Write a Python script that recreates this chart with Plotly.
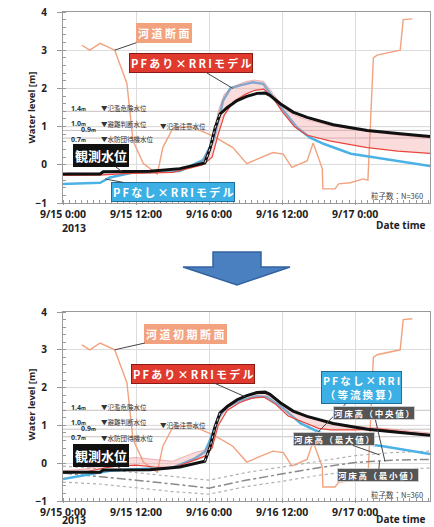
import pandas as pd
import plotly.graph_objects as go

START = pd.Timestamp("2013-09-15 00:00")
W, H = 434, 527

# ---- data (hours after 2013-09-15 00:00, water level in m) ----
obs_hours = [0, 6.1, 6.6, 14.3, 19.2, 22.5, 23.3, 24.2, 25.0, 25.8, 27.0, 28.6, 30.2, 31.9,
             33.2, 34.0, 35.7, 37.8, 40.1, 44.4, 50.0, 55.4, 60.3]
obs_level = [-0.24, -0.24, -0.18, -0.17, -0.10, 0.03, 0.05, 0.45, 0.97, 1.33, 1.50, 1.68, 1.79, 1.87,
             1.88, 1.82, 1.60, 1.38, 1.24, 1.05, 0.90, 0.81, 0.74]

sec_hours = [3.1, 4.4, 6.1, 8.5, 10.5, 11.5, 13.2, 15.5, 16.4, 18.1, 21.0, 24.7, 27.9, 30.2,
             32.4, 34.5, 36.2, 37.6, 40.1, 41.1, 42.6, 42.7, 44.7, 45.3, 47.2, 49.3, 50.1,
             51.0, 51.6, 55.4, 55.9, 57.4]
sec_level = [3.13, 3.00, 3.18, 3.00, 2.13, 0.63, 0.03, -0.24, 0.45, 0.97, 1.00, 0.75, 0.45, 0.03,
             0.18, 0.32, 0.28, -0.07, 0.10, 0.57, -0.10, -0.63, -0.63, -0.50, -0.47, -0.37, -0.40,
             2.80, 2.87, 3.00, 3.80, 3.82]

nopf_hours = [0, 6.1, 7.7, 11.5, 19.2, 22.5, 23.0, 24.7, 26.3, 27.5, 29.1, 31.2, 32.9, 34.5,
              36.2, 38.5, 40.6, 42.8, 47.3, 52.7, 60.3]
nopf_level = [-0.50, -0.47, -0.33, -0.20, -0.16, 0.10, 0.12, 0.63, 1.68, 2.00, 2.08, 2.16, 2.12, 1.76,
              1.42, 0.97, 0.71, 0.55, 0.29, 0.16, -0.03]

pf_hours = [0, 6, 10, 14, 18, 21, 23, 24.5, 25.5, 26.5, 28, 30, 31.5, 33, 34.5, 36, 38, 40,
            44, 50, 55, 60.3]
pf_upper = [-0.22, -0.22, -0.17, -0.15, -0.12, -0.02, 0.10, 0.60, 1.40, 1.85, 2.05, 2.18, 2.22, 2.18,
            1.85, 1.55, 1.30, 1.18, 1.03, 0.88, 0.78, 0.70]
pf_lower = [-0.28, -0.27, -0.23, -0.22, -0.20, -0.08, 0.00, 0.20, 0.80, 1.30, 1.65, 1.85, 1.95, 1.98,
            1.75, 1.40, 1.00, 0.78, 0.62, 0.45, 0.36, 0.30]

# uniform-flow converted run (lower panel)
uni_hours = [0, 6.1, 7.7, 12, 18, 21.7, 23.3, 24.0, 25.5, 27, 29, 31.9, 33.5, 36.2, 39, 41.7,
             44.4, 48.8, 52.6, 60.3]
uni_level = [-0.42, -0.26, -0.20, -0.16, -0.12, 0.13, 0.30, 0.55, 1.20, 1.50, 1.65, 1.77, 1.75, 1.45,
             1.06, 0.85, 0.66, 0.53, 0.45, 0.24]

pf2_hours = [0, 4, 7, 9, 12, 15, 18, 20, 22, 23.5, 24.5, 25.5, 27, 29, 31, 33, 35, 37, 40, 42,
             44, 48, 52, 60.3]
pf2_upper = [-0.20, -0.15, 0.05, 0.12, 0.15, 0.10, 0.05, 0.18, 0.30, 0.35, 0.70, 1.25, 1.55, 1.72,
             1.82, 1.85, 1.68, 1.45, 1.22, 1.13, 1.06, 0.98, 0.93, 0.80]
pf2_lower = [-0.25, -0.22, -0.12, -0.08, -0.05, -0.10, -0.12, -0.02, 0.10, 0.20, 0.40, 1.00, 1.40,
             1.60, 1.72, 1.75, 1.55, 1.25, 1.05, 0.92, 0.88, 0.88, 0.90, 0.75]

bed_hours = [0, 6, 12, 18, 24, 30, 36, 42, 48, 54, 60.3]
bed_max = [-0.08, -0.15, -0.25, -0.35, -0.45, -0.25, -0.10, 0.05, 0.20, 0.28, 0.32]
bed_med = [-0.26, -0.35, -0.45, -0.55, -0.66, -0.45, -0.28, -0.12, 0.02, 0.08, 0.10]
bed_min = [-0.50, -0.55, -0.65, -0.75, -0.82, -0.62, -0.48, -0.32, -0.20, -0.15, -0.13]

ref_levels = [1.4, 1.0, 0.9, 0.7]
ref_names = ["▼氾濫危険水位", "▼避難判断水位", "▼氾濫注意水位", "▼水防団待機水位"]
tick_hours = [0, 12, 24, 36, 48]

# ---- colours ----
C_OBS = "#111111"
C_SEC = "#f2a27e"
C_BLUE = "#4cb2e6"
C_RED = "#e8463c"
C_BAND = "rgba(242,150,150,0.33)"
C_BED = "#8a8a8a"
JP = "Noto Sans CJK JP"
TS = "\u2009"  # thin space used to spread the label lettering


def at(hours):
    return [START + pd.Timedelta(hours=h) for h in hours]


def px(x):
    return x / W


def py(y):
    return 1 - y / H


def spread(s):
    return TS.join(s)


fig = go.Figure()


def line(xs, ys, color, width, axis, dash="solid"):
    fig.add_trace(go.Scatter(x=at(xs), y=ys, mode="lines", xaxis=axis[0], yaxis=axis[1],
                             line=dict(color=color, width=width, dash=dash),
                             hoverinfo="skip", showlegend=False))


def band(xs, lo, hi, axis):
    fig.add_trace(go.Scatter(x=at(xs), y=lo, mode="lines", xaxis=axis[0], yaxis=axis[1],
                             line=dict(color=C_RED, width=1.2), showlegend=False, hoverinfo="skip"))
    fig.add_trace(go.Scatter(x=at(xs), y=hi, mode="lines", xaxis=axis[0], yaxis=axis[1],
                             fill="tonexty", fillcolor=C_BAND,
                             line=dict(color="rgba(225,110,110,0.6)", width=0.8),
                             showlegend=False, hoverinfo="skip"))


def observed(axis):
    line(obs_hours, obs_level, C_OBS, 3, axis)
    # the rising limb is drawn with a fine white dotted overlay
    rise = slice(6, 10)
    line(obs_hours[rise], obs_level[rise], "rgba(255,255,255,0.85)", 1, axis, "dot")


TOP = ("x", "y")
BOT = ("x2", "y2")

# upper panel
line(sec_hours, sec_level, C_SEC, 1.4, TOP)
line(nopf_hours, nopf_level, C_BLUE, 2.5, TOP)
band(pf_hours, pf_lower, pf_upper, TOP)
observed(TOP)

# lower panel
line(sec_hours, sec_level, C_SEC, 1.4, BOT)
line(bed_hours, bed_max, "#b0b0b0", 1.2, BOT, "dot")
line(bed_hours, bed_med, C_BED, 1.5, BOT, "dashdot")
line(bed_hours, bed_min, "#b0b0b0", 1.2, BOT, "dot")
line(uni_hours, uni_level, C_BLUE, 2.5, BOT)
band(pf2_hours, pf2_lower, pf2_upper, BOT)
observed(BOT)

# ---- axes ----
x_common = dict(
    type="date", range=[START, START + pd.Timedelta(hours=60.3)],
    tickvals=at(tick_hours), tickformat="%-m/%-d %-H:%M", automargin=False,
    tickfont=dict(family="Open Sans", size=10.5, color="#222", weight="bold"),
    showgrid=True, gridcolor="#dcdcdc", gridwidth=1,
    showline=True, linecolor="#9a9a9a", linewidth=1, mirror=True,
    ticks="outside", ticklen=1, tickcolor="#999", zeroline=False,
    minor=dict(dtick=3600000, ticks="inside", ticklen=3, tickcolor="#999", showgrid=False),
)
y_common = dict(
    range=[-1, 4], tickvals=[-1, 0, 1, 2, 3, 4], automargin=False,
    tickfont=dict(family="Open Sans", size=10, color="#222", weight="bold"),
    showgrid=True, gridcolor="#dcdcdc", gridwidth=1,
    showline=True, linecolor="#9a9a9a", linewidth=1, mirror=True,
    ticks="outside", ticklen=5, tickcolor="#999", ticklabelstandoff=8, zeroline=False,
    minor=dict(dtick=0.2, ticks="inside", ticklen=3, tickcolor="#999", showgrid=False),
)
xdom = [px(63), px(430)]
fig.update_layout(
    width=W, height=H, margin=dict(l=0, r=0, t=0, b=0, autoexpand=False),
    paper_bgcolor="white", plot_bgcolor="white",
    xaxis=dict(domain=xdom, anchor="y", **x_common),
    yaxis=dict(domain=[py(203), py(12)], anchor="x", **y_common),
    xaxis2=dict(domain=xdom, anchor="y2", **x_common),
    yaxis2=dict(domain=[py(501), py(312)], anchor="x2", **y_common),
)

shapes = []
anns = []

# warning levels
for xa, ya in (("x", "y"), ("x2", "y2")):
    for lv in ref_levels:
        shapes.append(dict(type="line", xref="paper", yref=ya, x0=xdom[0], x1=xdom[1], y0=lv, y1=lv,
                           line=dict(color="#c9c0c0", width=1), layer="below"))
    small = dict(family="Open Sans", size=7, color="#333", weight="bold")
    jp = dict(family=JP, size=6.5, color="#333")
    for lv, txt, xl, dy in ((1.4, "1.4<span style='font-size:5px'>m</span>", 69, 3),
                            (1.0, "1.0<span style='font-size:5px'>m</span>", 69, 3),
                            (0.9, "0.9<span style='font-size:5px'>m</span>", 79, 1),
                            (0.7, "0.7<span style='font-size:5px'>m</span>", 69, -1)):
        anns.append(dict(xref="paper", yref=ya, x=px(xl), y=lv, xanchor="left", yanchor="middle",
                         yshift=dy, text=txt, showarrow=False, font=small))
    for lv, name, xl, dy in ((1.4, ref_names[0], 99, 3), (1.0, ref_names[1], 99, 3),
                             (0.9, ref_names[2], 158, 4), (0.7, ref_names[3], 99, -1)):
        anns.append(dict(xref="paper", yref=ya, x=px(xl), y=lv, xanchor="left", yanchor="middle",
                         yshift=dy, text=name, showarrow=False, font=jp))


def tag(text, xa, ya, th, tl, ax, ay, bg, size=10, border=None, fc="white", pad=1):
    anns.append(dict(xref=xa, yref=ya, x=START + pd.Timedelta(hours=th), y=tl, ax=ax, ay=ay,
                     text=text, showarrow=True, arrowhead=0, arrowwidth=1, arrowcolor="#444",
                     standoff=0, startstandoff=0, bgcolor=bg, bordercolor=border or bg,
                     borderwidth=1, borderpad=pad,
                     font=dict(family=JP, size=size, color=fc, weight="bold")))


# labels, upper panel
tag("河 道 断 面", "x", "y", 8.5, 3.0, 49, -17, C_SEC, 11)
tag(spread("PFあり×RRIモデル"), "x", "y", 27.9, 2.0, -42, -25, "#e03a2f", 11, "#8b1a14")
tag("観測水位", "x", "y", 9.7, -0.18, -21, -16, "#111", 13)
tag(spread("PFなし×RRIモデル"), "x", "y", 6.9, -0.37, 68, 13, "#3cb0e4", 11, "#1d6f9c")

# labels, lower panel
tag("河 道 初 期 断 面", "x2", "y2", 8.5, 3.0, 71, -16, C_SEC, 11)
tag(spread("PFあり×RRIモデル"), "x2", "y2", 29.9, 1.76, -52, -23, "#e03a2f", 11, "#8b1a14")
tag(spread("PFなし×RRI") + "<br>" + spread("（等流換算）"), "x2", "y2", 41.7, 0.79, 45, -46,
    "#3cb0e4", 10.5, "#1d6f9c", pad=1)
tag(spread("河床高（中央値）"), "x2", "y2", 52.9, 0.05, -11, -48, "#555", 8.5, "#ccc", pad=0)
tag(spread("河床高（最大値）"), "x2", "y2", 52.0, 0.22, -45, -16, "#555", 8.5, "#ccc", pad=0)
tag(spread("河床高（最小値）"), "x2", "y2", 52.0, 0.05, -1, 14, "#555", 8.5, "#ccc", pad=0)
tag("観測水位", "x2", "y2", 9.7, -0.17, -21, -14, "#111", 13)

# frame texts
for ytop, y2013, ydt, yn in ((0, 228, 225, 196), (297, 520, 519, 494)):
    anns.append(dict(xref="paper", yref="paper", x=px(22), y=py(108 + ytop), text="Water level [m]",
                     textangle=-90, showarrow=False, yanchor="middle",
                     font=dict(family="Open Sans", size=9.5, color="#222", weight="bold")))
    anns.append(dict(xref="paper", yref="paper", x=px(425), y=py(yn), xanchor="right",
                     yanchor="middle", text="粒子数：N=360", showarrow=False,
                     font=dict(family=JP, size=7.5, color="#444")))
    anns.append(dict(xref="paper", yref="paper", x=px(60), y=py(y2013), text="2013",
                     showarrow=False, yanchor="middle",
                     font=dict(family="Open Sans", size=10.5, color="#222", weight="bold")))
    anns.append(dict(xref="paper", yref="paper", x=px(428), y=py(ydt), xanchor="right",
                     yanchor="middle", text="Date time", showarrow=False,
                     font=dict(family="Open Sans", size=10, color="#222", weight="bold")))

# down arrow between the panels
pts = [(213, 252), (261, 252), (261, 267), (290, 267), (237, 285), (183, 267), (213, 267)]
path = "M " + " L ".join(f"{px(a):.4f},{py(b):.4f}" for a, b in pts) + " Z"
shapes.append(dict(type="path", xref="paper", yref="paper", path=path,
                   fillcolor="#4a7fc0", line=dict(color="#3463a0", width=1.5)))

fig.update_layout(shapes=shapes, annotations=anns)
fig.write_html("out.html")
